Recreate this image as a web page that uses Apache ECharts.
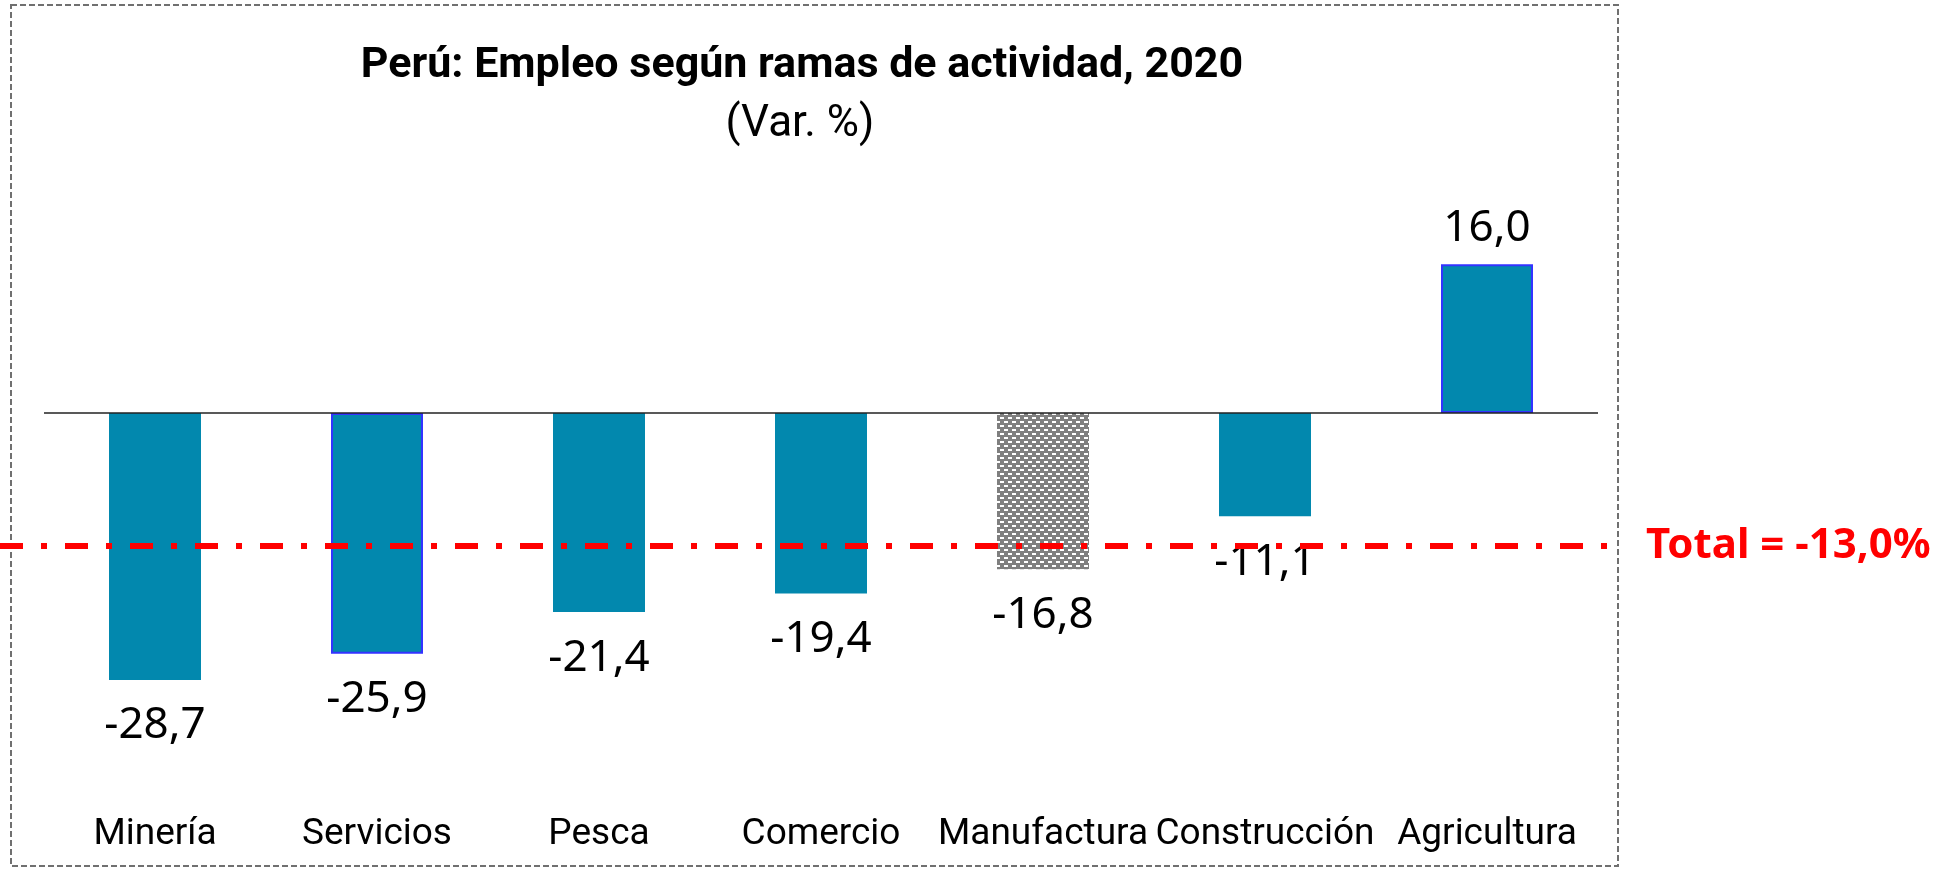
<!DOCTYPE html>
<html>
<head>
<meta charset="utf-8">
<title>Perú: Empleo según ramas de actividad, 2020</title>
<script src="https://cdn.jsdelivr.net/npm/echarts@6/dist/echarts.min.js"></script>
<style>
  html, body { margin: 0; padding: 0; background: #fff; }
  #chart { width: 1952px; height: 869px; }
</style>
</head>
<body>
<div id="chart"></div>
<script>
// datos
const categorias = ['Minería', 'Servicios', 'Pesca', 'Comercio', 'Manufactura', 'Construcción', 'Agricultura'];
const variacion = [-28.7, -25.9, -21.4, -19.4, -16.8, -11.1, 16.0];
const totalValor = -13.0;
// altura a la que está dibujada la línea del total en la imagen
const totalNivel = -14.3;
const conBorde = ['Servicios', 'Agricultura'];
const conTrama = ['Manufactura'];

const chart = echarts.init(document.getElementById('chart'));

// trama gris con rayas blancas (Manufactura)
const trama = document.createElement('canvas');
trama.width = 8;
trama.height = 8;
const ctx = trama.getContext('2d');
ctx.fillStyle = '#7f7f7f';
ctx.fillRect(0, 0, 8, 8);
ctx.fillStyle = '#ffffff';
ctx.fillRect(0, 1, 4, 2);
ctx.fillRect(4, 5, 4, 2);

const fmt = v => v.toFixed(1).replace('.', ',');

const barras = variacion.map((v, i) => {
  const cat = categorias[i];
  const item = {
    value: v,
    label: v < 0 ? { position: 'bottom', distance: 24 } : { position: 'top', distance: 14 },
    itemStyle: { color: '#0288ae' }
  };
  if (conBorde.includes(cat)) {
    item.itemStyle.borderColor = '#3333ff';
    item.itemStyle.borderWidth = 2;
  }
  if (conTrama.includes(cat)) {
    item.itemStyle.color = { image: trama, repeat: 'repeat' };
  }
  return item;
});

const option = {
  animation: false,
  title: [
    {
      text: 'Perú: Empleo según ramas de actividad, 2020',
      left: 797,
      top: 40,
      textAlign: 'center',
      textStyle: { fontFamily: 'Roboto', fontWeight: 'bold', fontSize: 43, color: '#000' }
    },
    {
      text: '(Var. %)',
      left: 795,
      top: 98,
      textAlign: 'center',
      textStyle: { fontFamily: 'Roboto', fontWeight: 'normal', fontSize: 44, color: '#000' }
    }
  ],
  graphic: [{
    type: 'rect',
    silent: true,
    shape: { x: 11, y: 5, width: 1607, height: 861 },
    style: { fill: 'none', stroke: '#707070', lineWidth: 2, lineDash: [6, 3] }
  }],
  grid: { left: 44, right: 354, top: 227, bottom: 177 },
  xAxis: {
    type: 'category',
    data: categorias,
    axisLine: { show: false, onZero: false },
    axisTick: { show: false },
    axisLabel: {
      interval: 0,
      margin: 124,
      fontFamily: 'Roboto',
      fontSize: 37,
      color: '#000'
    }
  },
  yAxis: {
    type: 'value',
    min: -30,
    max: 20,
    show: false,
    splitLine: { show: false }
  },
  series: [{
    type: 'bar',
    data: barras,
    barWidth: 92,
    label: {
      show: true,
      fontFamily: 'Noto Sans',
      fontSize: 44,
      color: '#000',
      formatter: p => fmt(p.value)
    },
    markLine: {
      silent: true,
      symbol: 'none',
      data: [
        [
          { yAxis: 0, x: 44 },
          { yAxis: 0, x: 1598 }
        ],
        [
          { yAxis: totalNivel, x: 0, lineStyle: { color: '#ff0000', width: 6, type: [23, 18, 6, 18] } },
          {
            yAxis: totalNivel, x: 1622,
            label: {
              show: true,
              position: 'end',
              distance: 24,
              formatter: 'Total = ' + fmt(totalValor) + '%',
              fontFamily: 'Noto Sans',
              fontWeight: 'bold',
              fontSize: 42,
              color: '#ff0000'
            }
          }
        ]
      ],
      lineStyle: { color: '#222', width: 1.5, type: 'solid' },
      label: { show: false }
    },
    z: 2
  }]
};

chart.setOption(option);
</script>
</body>
</html>
